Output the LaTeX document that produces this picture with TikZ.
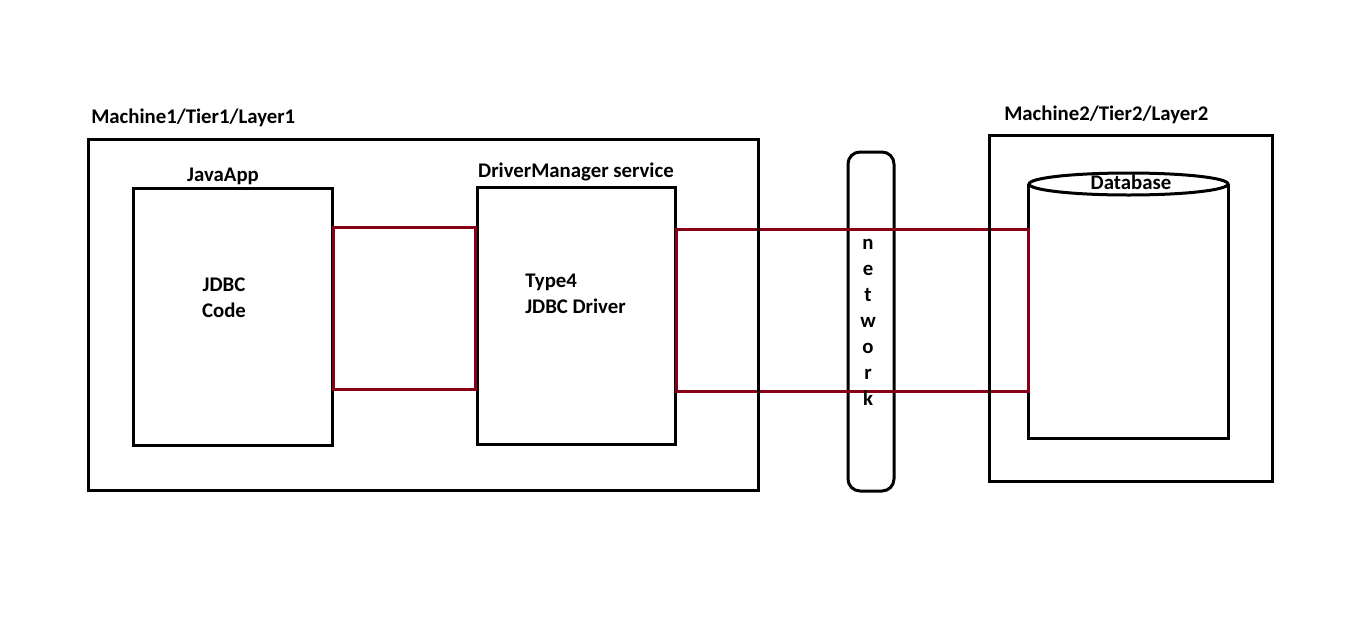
\documentclass[tikz,border=0pt]{standalone}
\usepackage{fontspec}
\setmainfont{Carlito}
\usetikzlibrary{fit}
\definecolor{dred}{HTML}{880015}
\begin{document}
\begin{tikzpicture}[x=0.75pt,y=-0.75pt,
  box/.style={draw, line width=2.25pt, inner sep=0pt},
  lbl/.style={font=\bfseries\fontsize{15.6}{18}\selectfont, inner sep=0pt},
  link/.style={draw=dred, line width=2.25pt}]
\useasboundingbox (0,0) rectangle (1360,618);
% inner boxes
\node[box, fit={(133,188) (332,445)}] (ja) {};
\node[box, fit={(477,187) (675,444)}] (dm) {};
% database cylinder
\node[inner sep=0pt, fit={(1029,173) (1228,438)}] (db) {};
\draw[line width=2.25pt] (1128.5,184) ellipse [x radius=74.6pt, y radius=8.25pt];
\draw[line width=2.25pt] (db.west |- 0,184) -- (db.south west) -- (db.south east) -- (db.east |- 0,184);
% network
\node[box, rounded corners=9pt, fit={(848,152) (894,491)}] (net) {};
% red links
\draw[link] (ja.east |- 0,227) -- (dm.west |- 0,227) -- (dm.west |- 0,389) -- (ja.east |- 0,389) -- cycle;
\draw[link] (dm.east |- 0,229) -- (db.west |- 0,229) -- (db.west |- 0,391) -- (dm.east |- 0,391) -- cycle;
% outer boxes
\node[box, fit={(88,139) (758,490)}] (m1) {};
\node[box, fit={(989,135) (1272,481)}] (m2) {};
% labels
\node[lbl, anchor=base west] (m1l) at (91,123) {Machine1/Tier1/Layer1};
\node[lbl, anchor=base west] (m2l) at (1004,120) {Machine2/Tier2/Layer2};
\node[lbl, anchor=base] (jal) at (223,181) {JavaApp};
\node[lbl, anchor=base] (dml) at (576,177) {DriverManager service};
\node[lbl, anchor=base] (dbl) at (1131,189) {Database};
\node[lbl, anchor=base] (jc1) at (224,291) {JDBC};
\node[lbl, anchor=base] (jc2) at (224,317) {Code};
\node[lbl, anchor=base west] (dt1) at (525,287) {Type4};
\node[lbl, anchor=base west] (dt2) at (525,313) {JDBC Driver};
\foreach \l [count=\i from 0] in {n,e,t,w,o,r,k}
  \node[lbl, anchor=base] (net\i) at (868,249+26*\i) {\l};
\end{tikzpicture}
\end{document}
